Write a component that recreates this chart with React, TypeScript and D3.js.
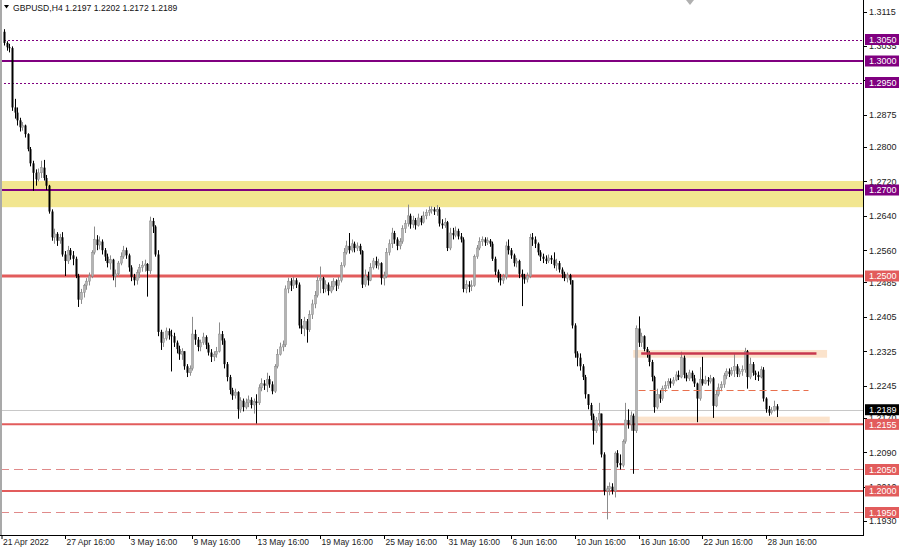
import React from 'react';
import * as d3 from 'd3';

const W = 900;
const H = 547;

const symbolTitle = 'GBPUSD,H4';
const lastOHLC = [1.2197, 1.2202, 1.2172, 1.2189];
const firstOpen = 1.3068;

const closes = [
  1.3042, 1.3032, 1.3030, 1.2892, 1.2880, 1.2862, 1.2846, 1.2850, 1.2830, 1.2795,
  1.2762, 1.2740, 1.2725, 1.2740, 1.2752, 1.2728, 1.2710, 1.2650, 1.2590, 1.2598,
  1.2582, 1.2590, 1.2550, 1.2535, 1.2560, 1.2548, 1.2540, 1.2500, 1.2445, 1.2462,
  1.2478, 1.2488, 1.2500, 1.2555, 1.2585, 1.2572, 1.2580, 1.2560, 1.2545, 1.2530,
  1.2538, 1.2500, 1.2505, 1.2530, 1.2545, 1.2560, 1.2548, 1.2520, 1.2498, 1.2490,
  1.2508, 1.2520, 1.2525, 1.2528, 1.2512, 1.2628, 1.2615, 1.2550, 1.2370, 1.2345,
  1.2355, 1.2372, 1.2362, 1.2360, 1.2345, 1.2330, 1.2318, 1.2325, 1.2290, 1.2275,
  1.2285, 1.2365, 1.2352, 1.2335, 1.2345, 1.2358, 1.2340, 1.2322, 1.2312, 1.2318,
  1.2325, 1.2365, 1.2350, 1.2295, 1.2265, 1.2235, 1.2222, 1.2230, 1.2190, 1.2210,
  1.2195, 1.2205, 1.2212, 1.2200, 1.2208, 1.2205, 1.2240, 1.2250, 1.2245, 1.2260,
  1.2248, 1.2232, 1.2290, 1.2318, 1.2335, 1.2340, 1.2470, 1.2488, 1.2478, 1.2490,
  1.2480, 1.2385, 1.2378, 1.2395, 1.2375, 1.2410, 1.2435, 1.2455, 1.2490, 1.2495,
  1.2470, 1.2480, 1.2465, 1.2475, 1.2488, 1.2478, 1.2490, 1.2525, 1.2555, 1.2570,
  1.2560, 1.2575, 1.2565, 1.2570, 1.2558, 1.2480, 1.2500, 1.2490, 1.2520, 1.2535,
  1.2525, 1.2530, 1.2495, 1.2500, 1.2555, 1.2575, 1.2600, 1.2585, 1.2570, 1.2580,
  1.2610, 1.2622, 1.2640, 1.2620, 1.2630, 1.2618, 1.2635, 1.2625, 1.2640, 1.2648,
  1.2652, 1.2655, 1.2650, 1.2655, 1.2622, 1.2618, 1.2625, 1.2565, 1.2600, 1.2595,
  1.2605, 1.2592, 1.2585, 1.2470, 1.2480, 1.2475, 1.2478, 1.2545, 1.2565, 1.2580,
  1.2585, 1.2578, 1.2582, 1.2575, 1.2540, 1.2510, 1.2495, 1.2490, 1.2498, 1.2570,
  1.2560, 1.2548, 1.2530, 1.2535, 1.2505, 1.2498, 1.2492, 1.2500, 1.2590, 1.2585,
  1.2575, 1.2555, 1.2545, 1.2540, 1.2535, 1.2542, 1.2538, 1.2525, 1.2530, 1.2515,
  1.2505, 1.2495, 1.2502, 1.2490, 1.2385, 1.2320, 1.2310, 1.2290, 1.2265, 1.2225,
  1.2200, 1.2175, 1.2140, 1.2165, 1.2180, 1.2085, 1.2000, 1.2005, 1.2010, 1.2000,
  1.2088, 1.2065, 1.2060, 1.2115, 1.2165, 1.2155, 1.2175, 1.2140, 1.2378, 1.2345,
  1.2360, 1.2330, 1.2320, 1.2300, 1.2265, 1.2195, 1.2225, 1.2215, 1.2238, 1.2245,
  1.2255, 1.2250, 1.2258, 1.2270, 1.2265, 1.2310, 1.2270, 1.2262, 1.2275, 1.2262,
  1.2250, 1.2215, 1.2260, 1.2250, 1.2258, 1.2255, 1.2262, 1.2198, 1.2225, 1.2240,
  1.2248, 1.2268, 1.2278, 1.2272, 1.2280, 1.2290, 1.2272, 1.2278, 1.2282, 1.2325,
  1.2265, 1.2295, 1.2275, 1.2270, 1.2265, 1.2282, 1.2215, 1.2190, 1.2182, 1.2188,
  1.2197, 1.2189,
];

const highs = [
  1.3074, 1.3046, 1.3040, 1.3034, 1.2912, 1.2892, 1.2868, 1.2858, 1.2852, 1.2832,
  1.2800, 1.2768, 1.2748, 1.2750, 1.2768, 1.2770, 1.2735, 1.2712, 1.2655, 1.2610,
  1.2602, 1.2598, 1.2602, 1.2558, 1.2570, 1.2565, 1.2558, 1.2545, 1.2505, 1.2470,
  1.2482, 1.2495, 1.2508, 1.2560, 1.2615, 1.2595, 1.2592, 1.2585, 1.2565, 1.2552,
  1.2548, 1.2540, 1.2515, 1.2535, 1.2555, 1.2570, 1.2566, 1.2552, 1.2525, 1.2505,
  1.2515, 1.2528, 1.2535, 1.2538, 1.2530, 1.2638, 1.2635, 1.2618, 1.2560, 1.2375,
  1.2370, 1.2380, 1.2378, 1.2375, 1.2368, 1.2350, 1.2338, 1.2332, 1.2325, 1.2295,
  1.2292, 1.2405, 1.2375, 1.2358, 1.2352, 1.2368, 1.2362, 1.2345, 1.2330, 1.2325,
  1.2335, 1.2392, 1.2372, 1.2355, 1.2300, 1.2270, 1.2240, 1.2238, 1.2232, 1.2218,
  1.2215, 1.2215, 1.2222, 1.2218, 1.2215, 1.2225, 1.2248, 1.2262, 1.2258, 1.2275,
  1.2268, 1.2255, 1.2295, 1.2330, 1.2345, 1.2350, 1.2478, 1.2496, 1.2495, 1.2498,
  1.2495, 1.2485, 1.2400, 1.2405, 1.2400, 1.2420, 1.2445, 1.2465, 1.2500, 1.2522,
  1.2498, 1.2490, 1.2485, 1.2488, 1.2495, 1.2492, 1.2498, 1.2532, 1.2565, 1.2582,
  1.2600, 1.2585, 1.2580, 1.2578, 1.2575, 1.2560, 1.2515, 1.2510, 1.2530, 1.2542,
  1.2545, 1.2540, 1.2532, 1.2510, 1.2565, 1.2585, 1.2612, 1.2605, 1.2590, 1.2588,
  1.2618, 1.2630, 1.2666, 1.2645, 1.2640, 1.2635, 1.2645, 1.2640, 1.2650, 1.2655,
  1.2662, 1.2662, 1.2660, 1.2665, 1.2660, 1.2632, 1.2635, 1.2628, 1.2612, 1.2612,
  1.2615, 1.2610, 1.2600, 1.2590, 1.2490, 1.2488, 1.2490, 1.2550, 1.2572, 1.2590,
  1.2592, 1.2590, 1.2590, 1.2586, 1.2580, 1.2545, 1.2515, 1.2505, 1.2505, 1.2580,
  1.2585, 1.2565, 1.2552, 1.2542, 1.2538, 1.2515, 1.2505, 1.2508, 1.2598, 1.2600,
  1.2592, 1.2578, 1.2560, 1.2552, 1.2548, 1.2550, 1.2548, 1.2555, 1.2540, 1.2535,
  1.2520, 1.2510, 1.2508, 1.2505, 1.2490, 1.2390, 1.2325, 1.2320, 1.2295, 1.2270,
  1.2225, 1.2205, 1.2180, 1.2172, 1.2205, 1.2180, 1.2090, 1.2012, 1.2020, 1.2018,
  1.2092, 1.2095, 1.2085, 1.2120, 1.2205, 1.2190, 1.2185, 1.2180, 1.2385, 1.2406,
  1.2368, 1.2362, 1.2335, 1.2325, 1.2305, 1.2268, 1.2238, 1.2235, 1.2245, 1.2255,
  1.2262, 1.2262, 1.2265, 1.2278, 1.2280, 1.2324, 1.2315, 1.2275, 1.2282, 1.2280,
  1.2270, 1.2252, 1.2288, 1.2312, 1.2268, 1.2265, 1.2270, 1.2265, 1.2235, 1.2250,
  1.2255, 1.2275, 1.2285, 1.2285, 1.2288, 1.2320, 1.2295, 1.2285, 1.2292, 1.2333,
  1.2328, 1.2310, 1.2300, 1.2280, 1.2278, 1.2290, 1.2288, 1.2218, 1.2198, 1.2195,
  1.2210, 1.2202,
];

const lows = [
  1.3036, 1.3024, 1.3020, 1.2884, 1.2866, 1.2850, 1.2836, 1.2838, 1.2822, 1.2790,
  1.2755, 1.2698, 1.2710, 1.2720, 1.2728, 1.2722, 1.2700, 1.2645, 1.2582, 1.2575,
  1.2570, 1.2575, 1.2545, 1.2500, 1.2528, 1.2538, 1.2525, 1.2495, 1.2428, 1.2435,
  1.2450, 1.2468, 1.2478, 1.2495, 1.2550, 1.2560, 1.2562, 1.2550, 1.2535, 1.2520,
  1.2515, 1.2490, 1.2474, 1.2500, 1.2525, 1.2540, 1.2540, 1.2510, 1.2488, 1.2478,
  1.2480, 1.2495, 1.2510, 1.2510, 1.2452, 1.2505, 1.2600, 1.2545, 1.2360, 1.2328,
  1.2335, 1.2350, 1.2352, 1.2278, 1.2335, 1.2320, 1.2305, 1.2305, 1.2282, 1.2265,
  1.2268, 1.2280, 1.2340, 1.2325, 1.2325, 1.2340, 1.2330, 1.2315, 1.2300, 1.2302,
  1.2310, 1.2322, 1.2340, 1.2285, 1.2255, 1.2225, 1.2212, 1.2215, 1.2168, 1.2182,
  1.2185, 1.2190, 1.2195, 1.2192, 1.2180, 1.2157, 1.2200, 1.2232, 1.2235, 1.2230,
  1.2240, 1.2225, 1.2228, 1.2285, 1.2315, 1.2325, 1.2335, 1.2460, 1.2465, 1.2470,
  1.2472, 1.2378, 1.2365, 1.2360, 1.2345, 1.2370, 1.2400, 1.2425, 1.2450, 1.2460,
  1.2460, 1.2462, 1.2455, 1.2460, 1.2468, 1.2465, 1.2470, 1.2485, 1.2520, 1.2550,
  1.2552, 1.2555, 1.2555, 1.2558, 1.2550, 1.2472, 1.2475, 1.2478, 1.2488, 1.2515,
  1.2518, 1.2515, 1.2480, 1.2478, 1.2495, 1.2548, 1.2565, 1.2575, 1.2560, 1.2562,
  1.2575, 1.2600, 1.2615, 1.2610, 1.2612, 1.2608, 1.2615, 1.2618, 1.2622, 1.2632,
  1.2640, 1.2645, 1.2642, 1.2640, 1.2615, 1.2610, 1.2612, 1.2558, 1.2560, 1.2585,
  1.2590, 1.2585, 1.2578, 1.2462, 1.2460, 1.2462, 1.2465, 1.2475, 1.2540, 1.2560,
  1.2570, 1.2570, 1.2572, 1.2568, 1.2535, 1.2502, 1.2485, 1.2478, 1.2482, 1.2492,
  1.2550, 1.2540, 1.2522, 1.2520, 1.2495, 1.2430, 1.2482, 1.2485, 1.2495, 1.2570,
  1.2565, 1.2548, 1.2535, 1.2530, 1.2528, 1.2530, 1.2528, 1.2518, 1.2512, 1.2508,
  1.2495, 1.2488, 1.2485, 1.2480, 1.2378, 1.2310, 1.2290, 1.2280, 1.2258, 1.2215,
  1.2190, 1.2165, 1.2108, 1.2135, 1.2150, 1.2078, 1.1990, 1.1934, 1.1990, 1.1992,
  1.1985, 1.2055, 1.2050, 1.2055, 1.2110, 1.2145, 1.2140, 1.2040, 1.2135, 1.2335,
  1.2335, 1.2325, 1.2310, 1.2290, 1.2255, 1.2182, 1.2190, 1.2205, 1.2210, 1.2230,
  1.2238, 1.2240, 1.2245, 1.2255, 1.2258, 1.2262, 1.2262, 1.2255, 1.2256, 1.2255,
  1.2242, 1.2160, 1.2210, 1.2245, 1.2248, 1.2245, 1.2250, 1.2170, 1.2195, 1.2220,
  1.2232, 1.2240, 1.2260, 1.2265, 1.2268, 1.2265, 1.2265, 1.2265, 1.2268, 1.2275,
  1.2238, 1.2260, 1.2268, 1.2258, 1.2256, 1.2262, 1.2208, 1.2182, 1.2175, 1.2178,
  1.2185, 1.2172,
];

const priceTicks = [
  1.3115, 1.3035, 1.2955, 1.2875, 1.28, 1.272, 1.264, 1.256,
  1.2485, 1.2405, 1.2325, 1.2245, 1.217, 1.209, 1.201, 1.193,
];

const timeLabels = [
  '21 Apr 2022', '27 Apr 16:00', '3 May 16:00', '9 May 16:00', '13 May 16:00',
  '19 May 16:00', '25 May 16:00', '31 May 16:00', '6 Jun 16:00', '10 Jun 16:00',
  '16 Jun 16:00', '22 Jun 16:00', '28 Jun 16:00',
];
const timeLabelBars = [0, 23, 47, 71, 95, 119, 143, 167, 191, 215, 239, 263, 287];

const purpleSolidLevels = [1.3, 1.27];
const purpleDottedLevels = [1.305, 1.295];
const redSolidLevels = [1.25, 1.2155, 1.2];
const redThickLevel = 1.25;
const redDashedLevels = [1.205, 1.195];
const currentPrice = 1.2189;

const yellowZone = [1.266, 1.2721];
const upperBoxPrices = [1.2310, 1.2328];
const upperBoxBars = [237, 310];
const upperLinePrice = 1.2320;
const upperLineBars = [240, 306];
const midDashedPrice = 1.2234;
const midDashedBars = [239, 303];
const lowerBoxPrices = [1.2159, 1.2173];
const lowerBoxBars = [238.5, 311];

const PURPLE = '#800080';
const RED = '#e25c5c';
const FONT = "'Liberation Sans', Arial, sans-serif";

export default function App() {
  const plotRight = 863;
  const plotBottom = 535;

  const x = d3.scaleLinear().domain([0, 24]).range([3.9, 3.9 + 63.73]);
  const y = d3.scaleLinear().domain([1.3, 1.2]).range([61, 491]);

  const candles = closes.map((c, i) => {
    const o = i === 0 ? firstOpen : closes[i - 1];
    const h = Math.max(highs[i], o, c);
    const l = Math.min(lows[i], o, c);
    return { i, o, h, l, c };
  });

  const hLine = (p: number) => Math.round(y(p)) + 0.5;

  const labelBox = (p: number, bg: string, key: string) => {
    const yy = y(p);
    return (
      <g key={key}>
        <rect x={865} y={yy - 5.5} width={34} height={11} fill={bg} />
        <text x={869} y={yy + 3.3} fontSize={9} fill="#ffffff" fontFamily={FONT}>
          {p.toFixed(4)}
        </text>
      </g>
    );
  };

  return (
    <div style={{ position: 'absolute', left: 0, top: 0, width: W, height: H }}>
      <svg width={W} height={H} style={{ display: 'block' }}>
        <rect x={0} y={0} width={W} height={H} fill="#ffffff" />
        <defs>
          <clipPath id="plot">
            <rect x={0} y={0} width={plotRight} height={plotBottom} />
          </clipPath>
        </defs>

        <g clipPath="url(#plot)">
          <rect
            x={0}
            y={y(yellowZone[1])}
            width={plotRight}
            height={y(yellowZone[0]) - y(yellowZone[1])}
            fill="#f2e690"
          />
          <rect
            x={x(upperBoxBars[0])}
            y={y(upperBoxPrices[1])}
            width={x(upperBoxBars[1]) - x(upperBoxBars[0])}
            height={y(upperBoxPrices[0]) - y(upperBoxPrices[1])}
            fill="#fbe3cc"
          />
          <rect
            x={x(lowerBoxBars[0])}
            y={y(lowerBoxPrices[1])}
            width={x(lowerBoxBars[1]) - x(lowerBoxBars[0])}
            height={y(lowerBoxPrices[0]) - y(lowerBoxPrices[1])}
            fill="#fbe3cc"
          />
          <line x1={0} x2={plotRight} y1={hLine(currentPrice)} y2={hLine(currentPrice)} stroke="#c8c8c8" strokeWidth={1} />

          {purpleDottedLevels.map((p) => (
            <line key={'pd' + p} x1={0} x2={plotRight} y1={hLine(p)} y2={hLine(p)} stroke={PURPLE} strokeWidth={1} strokeDasharray="2,2" />
          ))}
          {purpleSolidLevels.map((p) => (
            <line key={'ps' + p} x1={0} x2={plotRight} y1={y(p)} y2={y(p)} stroke={PURPLE} strokeWidth={2} />
          ))}
          {redSolidLevels.map((p) => (
            <line
              key={'rs' + p}
              x1={0}
              x2={plotRight}
              y1={y(p)}
              y2={y(p)}
              stroke={RED}
              strokeWidth={p === redThickLevel ? 3 : 2}
            />
          ))}
          {redDashedLevels.map((p) => (
            <line key={'rd' + p} x1={0} x2={plotRight} y1={hLine(p)} y2={hLine(p)} stroke="#e08a8a" strokeWidth={1} strokeDasharray="9,5" />
          ))}

          {candles.map((d) => {
            const cx = Math.round(x(d.i)) + 0.5;
            const bull = d.c >= d.o;
            const top = y(Math.max(d.o, d.c));
            const bot = y(Math.min(d.o, d.c));
            const col = bull ? '#8c8c8c' : '#000000';
            return (
              <g key={'c' + d.i}>
                <line x1={cx} x2={cx} y1={y(d.h)} y2={y(d.l)} stroke={col} strokeWidth={1} />
                <rect
                  x={cx - 1}
                  y={top}
                  width={2}
                  height={Math.max(1, bot - top)}
                  fill={bull ? '#b4b4b4' : '#000000'}
                  stroke={bull ? '#8c8c8c' : 'none'}
                  strokeWidth={0.5}
                />
              </g>
            );
          })}

          <line
            x1={x(upperLineBars[0])}
            x2={x(upperLineBars[1])}
            y1={y(upperLinePrice)}
            y2={y(upperLinePrice)}
            stroke="#c8384f"
            strokeWidth={2.5}
          />
          <line
            x1={x(midDashedBars[0])}
            x2={x(midDashedBars[1])}
            y1={hLine(midDashedPrice)}
            y2={hLine(midDashedPrice)}
            stroke="#e8704e"
            strokeWidth={1}
            strokeDasharray="7,4"
          />
        </g>

        <rect x={0} y={0} width={2} height={plotBottom} fill="#a9a9a9" />
        <path d="M686,0 L694,0 L690,5 Z" fill="#b0b0b0" />

        <line x1={plotRight + 0.5} x2={plotRight + 0.5} y1={0} y2={plotBottom} stroke="#000" strokeWidth={1} />
        <line x1={0} x2={plotRight + 1} y1={plotBottom + 0.5} y2={plotBottom + 0.5} stroke="#000" strokeWidth={1} />

        {priceTicks.map((p) => (
          <g key={'pt' + p}>
            <line x1={plotRight} x2={plotRight + 4} y1={hLine(p)} y2={hLine(p)} stroke="#000" />
            <text x={869} y={y(p) + 3.3} fontSize={9} fill="#222" fontFamily={FONT}>
              {p.toFixed(4)}
            </text>
          </g>
        ))}

        {purpleDottedLevels.map((p) => labelBox(p, PURPLE, 'lpd' + p))}
        {purpleSolidLevels.map((p) => labelBox(p, PURPLE, 'lps' + p))}
        {redSolidLevels.map((p) => labelBox(p, RED, 'lrs' + p))}
        {redDashedLevels.map((p) => labelBox(p, RED, 'lrd' + p))}
        {labelBox(currentPrice, '#000000', 'cur')}

        {timeLabels.map((t, k) => {
          const tx = k === 0 ? 2 : Math.round(x(timeLabelBars[k])) + 0.5;
          return (
            <g key={'tl' + k}>
              <line x1={tx} x2={tx} y1={plotBottom} y2={plotBottom + 4} stroke="#000" />
              <text x={tx + 1} y={545} fontSize={8.5} fill="#222" fontFamily={FONT}>
                {t}
              </text>
            </g>
          );
        })}

        <path d="M4,5 L9,5 L6.5,8.5 Z" fill="#000" />
        <text x={13} y={10.5} fontSize={8.6} fill="#111" fontFamily={FONT}>
          {symbolTitle + '  ' + lastOHLC.map((v) => v.toFixed(4)).join(' ')}
        </text>
      </svg>
    </div>
  );
}
